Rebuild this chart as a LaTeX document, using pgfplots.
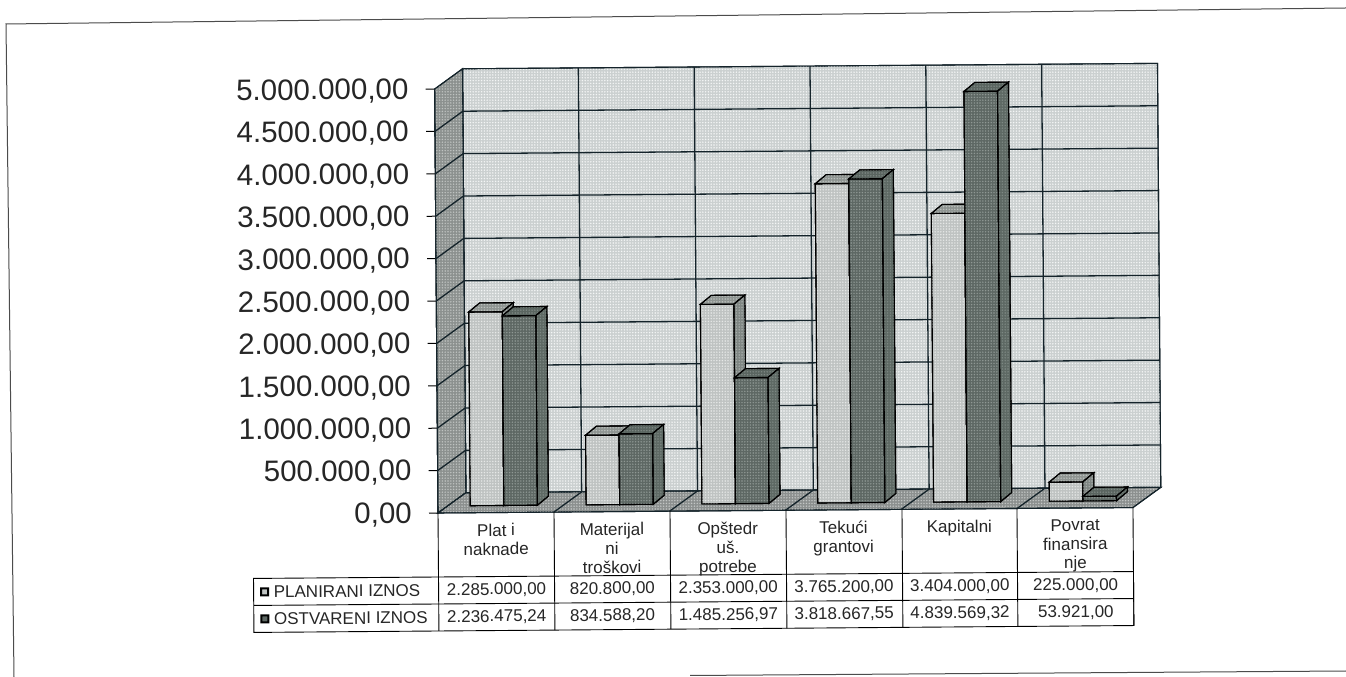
\documentclass[border=0pt]{standalone}
\usepackage{fontspec}
\setmainfont{Liberation Sans}
\usepackage{pgfplots}
\pgfplotsset{compat=1.18}
\usetikzlibrary{patterns.meta}
\definecolor{wall}{HTML}{CBD0D0}
\definecolor{wallp}{HTML}{F4F6F6}
\definecolor{side}{HTML}{8C918F}
\definecolor{sidep}{HTML}{BFC3C1}
\definecolor{floorc}{HTML}{8C908F}
\definecolor{floorcp}{HTML}{C4C7C6}
\definecolor{lf}{HTML}{BFC3C2}
\definecolor{lfp}{HTML}{E6E8E7}
\definecolor{lt}{HTML}{8E9491}
\definecolor{ltp}{HTML}{BDC2BF}
\definecolor{ls}{HTML}{7F8683}
\definecolor{lsp}{HTML}{A9AEAC}
\definecolor{df}{HTML}{5E6864}
\definecolor{dfp}{HTML}{8F9894}
\definecolor{dt}{HTML}{5A6560}
\definecolor{dtp}{HTML}{7F8985}
\definecolor{ds}{HTML}{5E6964}
\definecolor{dsp}{HTML}{7E8984}
\definecolor{ink}{HTML}{14232A}
\tikzset{
 ht/.style={fill=#1,postaction={pattern={Dots[distance=2.8pt,radius=.8pt]},pattern color=#1p}},
}
% depth constants in axis units: category x, value y
\def\wx{0.2417}\def\wy{235849}
\def\fx{0.069}\def\fy{82547}
\def\bx{0.095}\def\by{106132}
\newcommand\threedbar[6]{%
 \edef\tmp{%
 \noexpand\addplot[forget plot,draw=black,line width=1.1pt,ht=#4] coordinates {
  (\fpeval{#1+\fx},\fy) (\fpeval{#2+\fx},\fy) (\fpeval{#2+\fx},\fpeval{#3+\fy}) (\fpeval{#1+\fx},\fpeval{#3+\fy})} --cycle;
 \noexpand\addplot[forget plot,draw=black,line width=1.1pt,ht=#5] coordinates {
  (\fpeval{#1+\fx},\fpeval{#3+\fy}) (\fpeval{#2+\fx},\fpeval{#3+\fy}) (\fpeval{#2+\fx+\bx},\fpeval{#3+\fy+\by}) (\fpeval{#1+\fx+\bx},\fpeval{#3+\fy+\by})} --cycle;
 \noexpand\addplot[forget plot,draw=black,line width=1.1pt,ht=#6] coordinates {
  (\fpeval{#2+\fx},\fy) (\fpeval{#2+\fx+\bx},\fpeval{\fy+\by}) (\fpeval{#2+\fx+\bx},\fpeval{#3+\fy+\by}) (\fpeval{#2+\fx},\fpeval{#3+\fy})} --cycle;
 }\tmp}
\newcommand\pair[3]{%
 \threedbar{\fpeval{#1+.21}}{\fpeval{#1+.5}}{#2}{lf}{lt}{ls}%
 \threedbar{\fpeval{#1+.5}}{\fpeval{#1+.79}}{#3}{df}{dt}{ds}}
\begin{document}
\begin{tikzpicture}[x=1pt,y=1pt]
\clip (0,0) rectangle (1346,677);
\fill[white] (0,0) rectangle (1346,677);
% scanned page frame
\draw[black!70,line width=1pt] (1346,669) -- (6,653) -- (14,0);
\draw[black!70,line width=1pt] (690,1.5) -- (1346,6);
\begin{scope}[rotate around={0.45:(438,164)}]
\begin{axis}[
 at={(438pt,164pt)},anchor=south west,
 scale only axis,width=695pt,height=424pt,
 xmin=0,xmax=6,ymin=0,ymax=5000000,
 clip=false,
 axis x line=none,axis y line*=left,
 y axis line style={-,black,line width=1.1pt},
 ytick={0,500000,1000000,1500000,2000000,2500000,3000000,3500000,4000000,4500000,5000000},
 scaled y ticks=false,
 tick align=outside,major tick length=9pt,
 ytick style={black,line width=1pt},
 yticklabel style={font=\fontsize{29.5}{31}\selectfont,text=black!85,/pgf/number format/.cd,fixed,fixed zerofill,precision=2,1000 sep={.},dec sep={,},assume math mode=true},
 every tick label/.append style={inner sep=0pt},
 tick label style={xshift=-17pt,yshift=-1.5pt},
]
% walls and floor
\addplot[forget plot,draw=ink,line width=1.1pt,ht=wall] coordinates {(\wx,235849) (6.2417,235849) (6.2417,5235849) (\wx,5235849)} --cycle;
\addplot[forget plot,draw=ink,line width=1.1pt,ht=side] coordinates {(0,0) (\wx,235849) (\wx,5235849) (0,5000000)} --cycle;
\addplot[forget plot,draw=ink,line width=1.1pt,ht=floorc] coordinates {(0,0) (6,0) (6.2417,235849) (\wx,235849)} --cycle;
% horizontal grid: side wall then back wall
\pgfplotsinvokeforeach{500000,1000000,1500000,2000000,2500000,3000000,3500000,4000000,4500000}{
 \edef\tmp{\noexpand\addplot[forget plot,ink,line width=1.3pt] coordinates {(0,#1) (\wx,\fpeval{#1+\wy}) (6.2417,\fpeval{#1+\wy})};}\tmp
}
% vertical grid: floor then back wall
\pgfplotsinvokeforeach{1,2,3,4,5}{
 \edef\tmp{\noexpand\addplot[forget plot,ink,line width=1.3pt] coordinates {(#1,0) (\fpeval{#1+\wx},\wy) (\fpeval{#1+\wx},\fpeval{5000000+\wy})};}\tmp
}
\pair{0}{2285000.00}{2236475.24}
\pair{1}{820800.00}{834588.20}
\pair{2}{2353000.00}{1485256.97}
\pair{3}{3765200.00}{3818667.55}
\pair{4}{3404000.00}{4839569.32}
\pair{5}{225000.00}{53921.00}
\end{axis}
\begin{scope}[y=-1pt,yshift=677pt,every node/.style={rotate=0.45,font=\fontsize{17}{19}\selectfont,align=center,inner sep=0pt,text=black!85}]
% data table
\draw[black,line width=.9pt] (438,513) -- (438,631) (554,513) -- (554,631) (670,513) -- (670,631) (786,513) -- (786,631) (902,513) -- (902,631) (1017,513) -- (1017,631) (1133,513) -- (1133,631);
\draw[black,line width=.9pt] (253,577) rectangle (1133,631) (253,604) -- (1133,604);
\foreach \c/\t in {0/{Plat i\\naknade},1/{Materijal\\ni\\troškovi},2/{Opštedr\\uš.\\potrebe},3/{Tekući\\grantovi},4/{Kapitalni},5/{Povrat\\finansira\\nje}}
 \node[anchor=north] at ({438+115.83*(\c+.5)},524) {\t};
\foreach \c/\a/\b in {0/{2.285.000,00}/{2.236.475,24},1/{820.800,00}/{834.588,20},2/{2.353.000,00}/{1.485.256,97},3/{3.765.200,00}/{3.818.667,55},4/{3.404.000,00}/{4.839.569,32},5/{225.000,00}/{53.921,00}}{
 \node at ({438+115.83*(\c+.5)},590.5) {\a};
 \node at ({438+115.83*(\c+.5)},617.5) {\b};
}
\node[anchor=west] at (273,590.5) {PLANIRANI IZNOS};
\node[anchor=west] at (273,617.5) {OSTVARENI IZNOS};
\draw[black,fill=lf,line width=2pt] (260.5,587) rectangle (267.5,594);
\draw[black,fill=df,line width=2pt] (260.5,614) rectangle (267.5,621);
\end{scope}
\end{scope}
\end{tikzpicture}
\end{document}
